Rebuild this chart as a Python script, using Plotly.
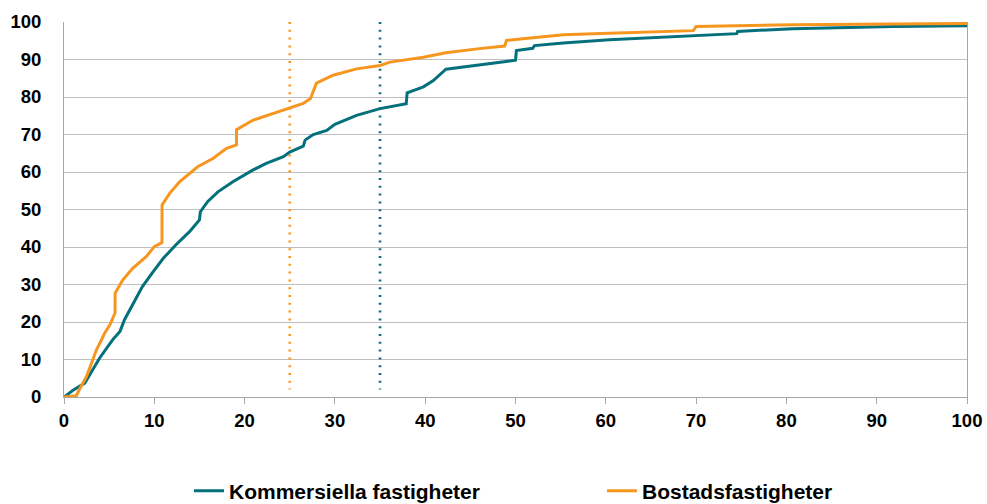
import plotly.graph_objects as go

# Kommersiella fastigheter (teal)
kom_x = [0, 1.0, 2.3, 3.95, 5.4, 6.2, 6.7, 7.6, 8.7, 9.9, 11.0, 12.4, 13.9, 15.0, 15.1, 15.9, 17.05,
         18.7, 20.9, 22.4, 24.3, 25.0, 26.5, 26.7, 27.6, 29.1, 30.0, 32.4, 35.0, 37.9, 38.0, 39.8,
         40.9, 42.3, 47.1, 50.0, 50.1, 51.9, 52.1, 55.3, 60.4, 74.5, 74.6, 80.7, 91.8, 100]
kom_y = [0, 1.8, 3.7, 10.4, 15.3, 17.5, 20.6, 24.6, 29.5, 33.5, 37.0, 40.6, 44.1, 47.2, 49.4, 52.1, 54.7,
         57.4, 60.5, 62.3, 64.1, 65.3, 66.9, 68.5, 70.0, 71.1, 72.7, 75.1, 76.9, 78.2, 81.1, 82.7,
         84.4, 87.4, 88.9, 89.8, 92.4, 93.0, 93.7, 94.4, 95.3, 96.9, 97.5, 98.2, 98.8, 99.0]

# Bostadsfastigheter (orange)
bos_x = [0, 1.37, 1.7, 2.5, 3.6, 4.5, 5.1, 5.65, 5.66, 6.5, 7.6, 9.1, 10.0, 10.85, 10.86, 11.7, 12.8,
         14.8, 16.5, 18.0, 19.1, 19.11, 20.9, 23.1, 25.0, 26.5, 27.3, 27.6, 27.95, 29.8, 32.4, 35.0,
         36.1, 39.8, 42.3, 46.0, 48.8, 49.0, 51.6, 55.3, 60.4, 69.7, 70.0, 80.7, 91.8, 100]
bos_y = [0, 0.35, 2.0, 5.5, 12.6, 17.0, 19.3, 22.4, 27.7, 31.2, 34.3, 37.4, 40.1, 41.2, 51.2, 54.3, 57.4,
         61.4, 63.6, 66.3, 67.2, 71.3, 73.8, 75.6, 77.0, 78.3, 79.6, 81.4, 83.7, 85.8, 87.5, 88.4,
         89.3, 90.6, 91.8, 92.9, 93.6, 95.1, 95.8, 96.6, 97.0, 97.7, 98.8, 99.25, 99.5, 99.6]

# Medians (dotted vertical lines)
median_kom = 35
median_bos = 25
vline_y = [100, 2]

x_ticks = list(range(0, 101, 10))
y_ticks = list(range(0, 101, 10))

TEAL = "#04707C"
ORANGE = "#F7961F"
FONT = "Liberation Sans, Arial, sans-serif"
FS = 18.5
FS_LEG = 21

W, H = 987, 504

fig = go.Figure()
fig.add_trace(go.Scatter(x=[median_bos, median_bos], y=vline_y, mode="lines",
                         line=dict(color=ORANGE, width=2.6, dash="2px,5.8px"), showlegend=False, hoverinfo="skip"))
fig.add_trace(go.Scatter(x=[median_kom, median_kom], y=vline_y, mode="lines",
                         line=dict(color=TEAL, width=2.6, dash="2px,5.8px"), showlegend=False, hoverinfo="skip"))
fig.add_trace(go.Scatter(x=kom_x, y=kom_y, mode="lines", name="Kommersiella fastigheter",
                         line=dict(color=TEAL, width=3)))
fig.add_trace(go.Scatter(x=bos_x, y=bos_y, mode="lines", name="Bostadsfastigheter",
                         line=dict(color=ORANGE, width=3)))

fig.update_layout(
    width=W, height=H,
    margin=dict(l=64, r=20, t=22, b=107, autoexpand=False),
    paper_bgcolor="white", plot_bgcolor="white",
    font=dict(family=FONT, size=FS, color="black"),
    showlegend=True,
    legend=dict(orientation="h", xref="container", yref="container",
                x=(197 - 8) / W, xanchor="left", y=1 - 491 / H, yanchor="middle",
                font=dict(family=FONT, size=FS_LEG, color="black", weight="bold"),
                entrywidth=368, entrywidthmode="pixels", itemwidth=30,
                bgcolor="rgba(0,0,0,0)"),
)
fig.update_xaxes(range=[0, 100], tickvals=x_ticks, showgrid=False, showline=True,
                 linecolor="#A6A6A6", linewidth=1, ticks="outside", ticklen=6, tickcolor="#A6A6A6",
                 ticklabelstandoff=1,
                 tickfont=dict(family=FONT, size=FS, weight="bold"), zeroline=False, fixedrange=True,
                 automargin=False)
fig.update_yaxes(range=[0, 100], tickvals=y_ticks, showgrid=True, gridcolor="#BFBFBF", gridwidth=1,
                 showline=True, linecolor="#A6A6A6", linewidth=1, mirror=True, ticks="",
                 ticklabelstandoff=18,
                 tickfont=dict(family=FONT, size=FS, weight="bold"), zeroline=False, fixedrange=True,
                 automargin=False)

fig.write_html("out.html", config={"displayModeBar": False},
               post_script="document.body.style.margin='0';document.body.style.overflow='hidden';")
